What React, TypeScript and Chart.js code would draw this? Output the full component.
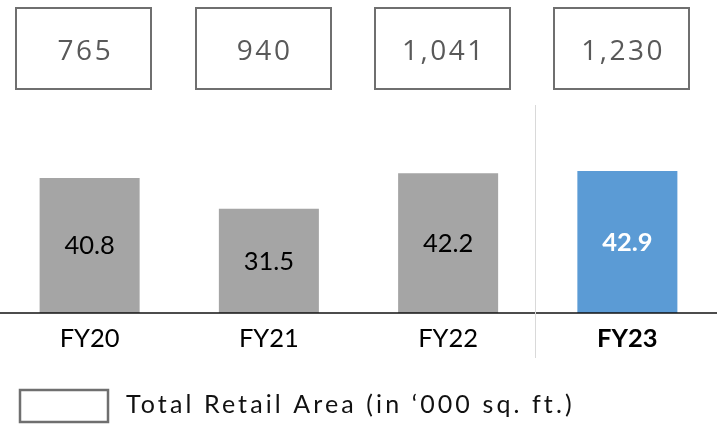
import React, { useEffect, useRef } from "react";
import { Chart, registerables } from "chart.js";

Chart.register(...registerables);

const categories = ["FY20", "FY21", "FY22", "FY23"];
const retailValues = [40.8, 31.5, 42.2, 42.9];
const retailArea = [765, 940, 1041, 1230];
const highlightIndex = 3;
const legendLabel = "Total Retail Area (in \u2018000 sq. ft.)";

const GREY = "#a5a5a5";
const BLUE = "#5b9bd5";

const overlayPlugin = {
  id: "overlay",
  afterDatasetsDraw(chart: any) {
    const { ctx, scales } = chart;
    const x = scales.x;
    const y = scales.y;
    const step = x.getPixelForValue(1) - x.getPixelForValue(0);
    const baseY = y.getPixelForValue(0);
    ctx.save();

    // baseline
    ctx.strokeStyle = "#111";
    ctx.lineWidth = 1.6;
    ctx.beginPath();
    ctx.moveTo(0, baseY);
    ctx.lineTo(chart.width, baseY);
    ctx.stroke();

    // separator between last two categories
    const sepX = Math.round((x.getPixelForValue(highlightIndex - 1) + x.getPixelForValue(highlightIndex)) / 2 - 3) + 0.5;
    ctx.strokeStyle = "#d9d9d9";
    ctx.lineWidth = 1;
    ctx.beginPath();
    ctx.moveTo(sepX, 105);
    ctx.lineTo(sepX, 358);
    ctx.stroke();

    // value labels inside bars + category labels
    const meta = chart.getDatasetMeta(0);
    categories.forEach((cat, i) => {
      const cx = x.getPixelForValue(i);
      const bar = meta.data[i];
      const mid = (bar.y + bar.base) / 2;
      const hi = i === highlightIndex;
      ctx.textAlign = "center";
      ctx.textBaseline = "alphabetic";
      (ctx as any).letterSpacing = "0px";
      ctx.font = `${hi ? "bold " : ""}25.5px Lato`;
      ctx.fillStyle = hi ? "#ffffff" : "#000000";
      ctx.fillText(retailValues[i].toFixed(1), cx, mid + 9);
      ctx.fillStyle = "#000000";
      ctx.fillText(cat, cx, baseY + 34);

      // boxes with retail area
      const bw = step * 0.755;
      const bcx = cx - 5.5;
      ctx.strokeStyle = "#6f6f6f";
      ctx.lineWidth = 2;
      ctx.strokeRect(Math.round(bcx - bw / 2), 8, Math.round(bw), 81);
      ctx.font = "28px 'Open Sans'";
      (ctx as any).letterSpacing = "2.5px";
      ctx.fillStyle = "#595959";
      ctx.fillText(retailArea[i].toLocaleString("en-US"), bcx + 1.25, 60);
    });

    // legend
    (ctx as any).letterSpacing = "0px";
    ctx.strokeStyle = "#6f6f6f";
    ctx.lineWidth = 2.5;
    ctx.strokeRect(20, 390, 88, 32);
    ctx.font = "25px Lato";
    (ctx as any).letterSpacing = "3.1px";
    ctx.fillStyle = "#111";
    ctx.textAlign = "left";
    ctx.fillText(legendLabel, 126, 413);

    ctx.restore();
  },
};

export default function App() {
  const ref = useRef<HTMLCanvasElement | null>(null);
  useEffect(() => {
    if (!ref.current) return;
    const chart = new Chart(ref.current, {
      type: "bar",
      data: {
        labels: categories,
        datasets: [
          {
            data: retailValues,
            backgroundColor: retailValues.map((_, i) => (i === highlightIndex ? BLUE : GREY)),
            borderWidth: 0,
            categoryPercentage: 1,
            barPercentage: 0.558,
          },
        ],
      },
      options: {
        animation: false,
        responsive: false,
        devicePixelRatio: 1,
        layout: { padding: { top: 147.5, bottom: 112, left: 0, right: 0 } },
        plugins: { legend: { display: false }, tooltip: { enabled: false } },
        scales: {
          x: { display: false, offset: true },
          y: { display: false, min: 0, max: 50 },
        },
      },
      plugins: [overlayPlugin],
    });
    return () => chart.destroy();
  }, []);
  return (
    <div style={{ position: "fixed", left: 0, top: 0, width: 717, height: 425, background: "#fff" }}>
      <canvas ref={ref} width={717} height={425} style={{ width: 717, height: 425, display: "block" }} />
    </div>
  );
}
